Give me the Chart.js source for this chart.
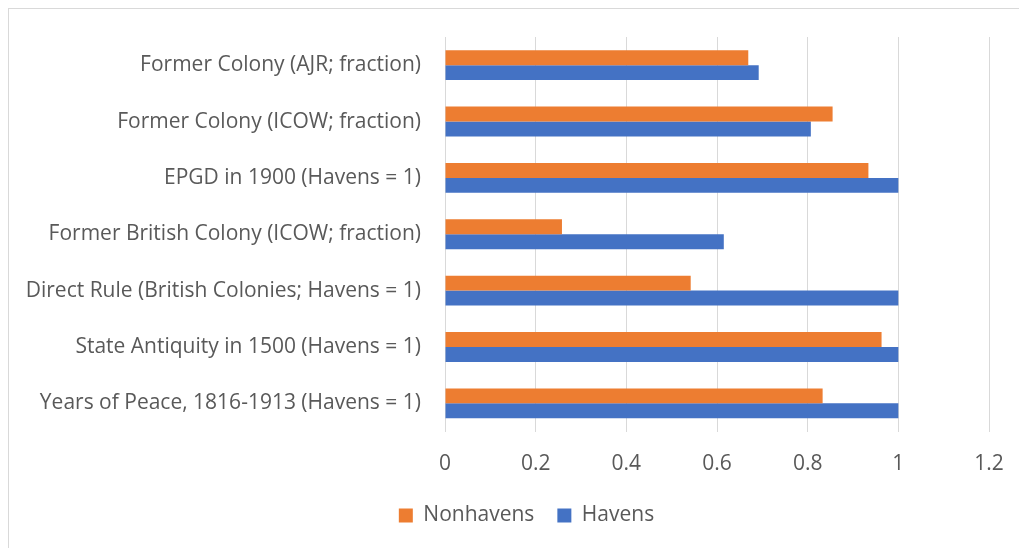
<!DOCTYPE html>
<html>
<head>
<meta charset="utf-8">
<script src="https://cdn.jsdelivr.net/npm/chart.js@4/dist/chart.umd.min.js"></script>
<style>
  html, body { margin: 0; padding: 0; background: #fff; overflow: hidden; }
  #rahmen {
    position: absolute; left: 8px; top: 8px; width: 1040px; height: 560px;
    border-left: 1px solid #d9d9d9; border-top: 1px solid #d9d9d9;
  }
  #wrap { position: absolute; left: 0; top: 0; width: 1019px; height: 548px; }
</style>
</head>
<body>
<div id="rahmen"></div>
<div id="wrap"><canvas id="chart" width="1019" height="548"></canvas></div>
<script>
const kategorien = [
  'Former Colony (AJR; fraction)',
  'Former Colony (ICOW; fraction)',
  'EPGD in 1900 (Havens = 1)',
  'Former British Colony (ICOW; fraction)',
  'Direct Rule (British Colonies; Havens = 1)',
  'State Antiquity in 1500 (Havens = 1)',
  'Years of Peace, 1816-1913 (Havens = 1)'
];
const nonhavens = [0.669, 0.855, 0.934, 0.258, 0.542, 0.963, 0.833];
const havens = [0.692, 0.807, 1, 0.615, 1, 1, 1];
const xTickLabels = ['0', '0.2', '0.4', '0.6', '0.8', '1', '1.2'];

window.addEventListener('DOMContentLoaded', () => {
  const ctx = document.getElementById('chart').getContext('2d');
  const schrift = '"Open Sans", "Noto Sans", sans-serif';
  const textFarbe = '#595959';

  // Legende etwas nach rechts schieben (wie im Original)
  const legendeVerschieben = {
    id: 'legendeVerschieben',
    afterLayout(chart) {
      chart.legend.left += 27;
      chart.legend.right += 27;
    }
  };

  new Chart(ctx, {
    type: 'bar',
    data: {
      labels: kategorien,
      datasets: [
        { label: 'Nonhavens', data: nonhavens, backgroundColor: '#ED7D31' },
        { label: 'Havens', data: havens, backgroundColor: '#4472C4' }
      ]
    },
    options: {
      indexAxis: 'y',
      responsive: false,
      animation: false,
      categoryPercentage: 0.53,
      barPercentage: 1,
      layout: { padding: { left: 10, right: 30, top: 37, bottom: 12 } },
      plugins: {
        tooltip: { enabled: false },
        legend: {
          position: 'bottom',
          labels: {
            color: textFarbe,
            font: { family: schrift, size: 21 },
            boxWidth: 14,
            boxHeight: 14,
            padding: 23
          }
        }
      },
      scales: {
        x: {
          min: 0,
          max: 1.2,
          ticks: {
            stepSize: 0.2,
            color: textFarbe,
            font: { family: schrift, size: 21 },
            padding: 20,
            callback: (v, i) => xTickLabels[i]
          },
          grid: { color: '#d9d9d9', lineWidth: 1, drawTicks: false },
          border: { display: false },
          // Platz zwischen Achse und Legende, kein Extra-Rand für "1.2"
          afterFit: (scale) => {
            scale.height = 50.5;
            scale.paddingLeft = 0;
            scale.paddingRight = 0;
          }
        },
        y: {
          ticks: {
            color: textFarbe,
            font: { family: schrift, size: 21 },
            padding: 16
          },
          grid: { display: false },
          border: { display: false },
          afterFit: (scale) => { scale.width = 435; }
        }
      }
    },
    plugins: [legendeVerschieben]
  });
});
</script>
</body>
</html>
